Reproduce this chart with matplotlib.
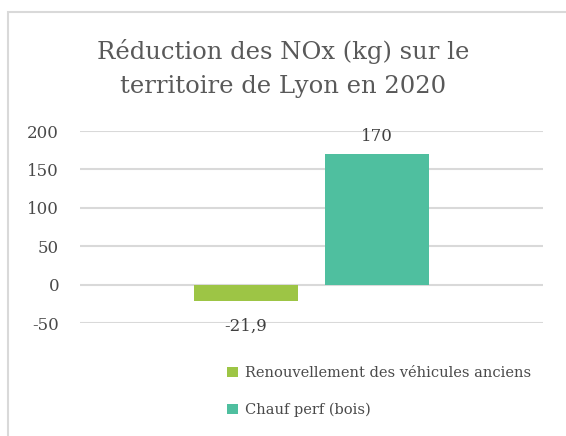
import matplotlib.pyplot as plt
from matplotlib.patches import Rectangle

plt.rcParams['font.family'] = ['DejaVu Serif']
plt.rcParams['axes.unicode_minus'] = False

# data
series = ["Renouvellement des véhicules anciens", "Chauf perf (bois)"]
values = [-21.9, 170]
labels = ["-21,9", "170"]
colors = ["#9DC545", "#4FBF9F"]
yticks = [-50, 0, 50, 100, 150, 200]

fig = plt.figure(figsize=(5.66, 4.36), dpi=100)
ax = fig.add_axes([80/566, 113/436, 463/566, 192/436])

# outer border of the chart box
fig.patches.append(Rectangle((8/566, -0.1), 1.2, (424/436) + 0.1, transform=fig.transFigure,
                             fill=False, edgecolor="#D9D9D9", lw=1.5))

width = 0.225
offsets = [-0.142, 0.142]
for i in range(len(values)):
    ax.bar(offsets[i], values[i], width, color=colors[i], label=series[i], zorder=3)
    if values[i] < 0:
        ax.text(offsets[i], values[i] - 22, labels[i], ha="center", va="top",
                fontsize=12, color="#404040")
    else:
        ax.text(offsets[i], values[i] + 12, labels[i], ha="center", va="bottom",
                fontsize=12, color="#404040")

ax.set_xlim(-0.5, 0.5)
ax.set_ylim(-50, 200)
ax.set_yticks(yticks)
ax.set_xticks([])
ax.yaxis.grid(True, color="#D9D9D9", lw=1.5, zorder=0)
for s in ax.spines.values():
    s.set_visible(False)
ax.tick_params(axis="y", length=0, labelsize=12, labelcolor="#4a4a4a", pad=15)

fig.suptitle("Réduction des NOx (kg) sur le\nterritoire de Lyon en 2020", y=1 - 39/436,
             fontsize=17.5, color="#595959", linespacing=1.6)

fig.legend(loc="upper left", bbox_to_anchor=(214/566, 1 - 353/436), frameon=False,
           fontsize=10.5, labelcolor="#4a4a4a", handlelength=0.75, handleheight=0.75,
           handletextpad=0.5, labelspacing=1.55)

fig.savefig("out.png", dpi=100)
